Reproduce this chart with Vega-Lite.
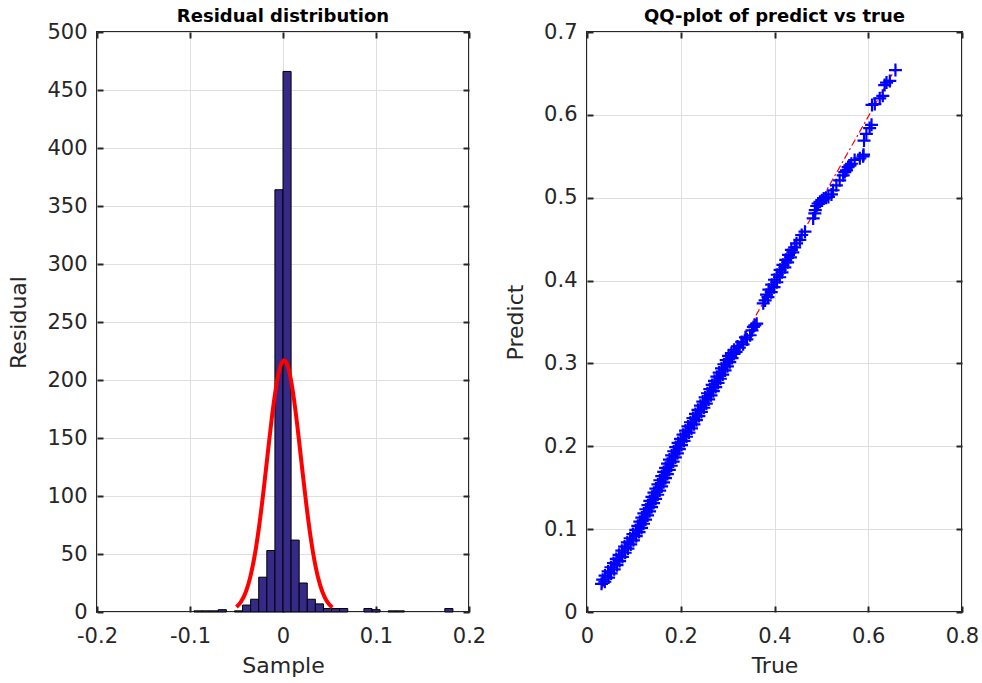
{
  "$schema": "https://vega.github.io/schema/vega-lite/v6.json",
  "background": "white",
  "padding": {"left": 6, "top": 7, "right": 10, "bottom": 5},
  "bounds": "flush",
  "spacing": 118,
  "datasets": {
    "bins": [
      {"start": -0.0957, "end": -0.087, "count": 1},
      {"start": -0.087, "end": -0.0783, "count": 1},
      {"start": -0.0783, "end": -0.0696, "count": 1},
      {"start": -0.0696, "end": -0.0609, "count": 2},
      {"start": -0.0522, "end": -0.0435, "count": 1},
      {"start": -0.0435, "end": -0.0348, "count": 6},
      {"start": -0.0348, "end": -0.0261, "count": 11},
      {"start": -0.0261, "end": -0.0174, "count": 30},
      {"start": -0.0174, "end": -0.0087, "count": 53},
      {"start": -0.0087, "end": 0, "count": 364},
      {"start": 0, "end": 0.0087, "count": 466},
      {"start": 0.0087, "end": 0.0174, "count": 62},
      {"start": 0.0174, "end": 0.0261, "count": 25},
      {"start": 0.0261, "end": 0.0348, "count": 11},
      {"start": 0.0348, "end": 0.0435, "count": 7},
      {"start": 0.0435, "end": 0.0522, "count": 3},
      {"start": 0.0522, "end": 0.0609, "count": 3},
      {"start": 0.0609, "end": 0.0696, "count": 3},
      {"start": 0.087, "end": 0.0957, "count": 3},
      {"start": 0.0957, "end": 0.1044, "count": 2},
      {"start": 0.1131, "end": 0.1218, "count": 1},
      {"start": 0.1218, "end": 0.1305, "count": 1},
      {"start": 0.174, "end": 0.1827, "count": 3}
    ],
    "fit": [
      {"x": -0.05, "y": 4.3}, {"x": -0.045, "y": 9.0}, {"x": -0.04, "y": 17.2},
      {"x": -0.035, "y": 30.7}, {"x": -0.03, "y": 50.7}, {"x": -0.025, "y": 77.9},
      {"x": -0.02, "y": 110.9}, {"x": -0.015, "y": 146.7}, {"x": -0.01, "y": 179.9},
      {"x": -0.005, "y": 204.9}, {"x": 0, "y": 216.5}, {"x": 0.0012, "y": 217},
      {"x": 0.005, "y": 212.4}, {"x": 0.01, "y": 193.3}, {"x": 0.015, "y": 163.3},
      {"x": 0.02, "y": 128.0}, {"x": 0.025, "y": 93.2}, {"x": 0.03, "y": 62.9},
      {"x": 0.035, "y": 39.4}, {"x": 0.04, "y": 22.9}, {"x": 0.045, "y": 12.4},
      {"x": 0.05, "y": 6.2}, {"x": 0.053, "y": 3.9}
    ],
    "refline": [
      {"x": 0.03, "y": 0.027},
      {"x": 0.66, "y": 0.658}
    ],
    "qq": [
      {"x": 0.031, "y": 0.034}, {"x": 0.038, "y": 0.0365}, {"x": 0.0335, "y": 0.039}, {"x": 0.046, "y": 0.0415},
      {"x": 0.0385, "y": 0.044}, {"x": 0.0515, "y": 0.0465}, {"x": 0.045, "y": 0.049}, {"x": 0.058, "y": 0.0515},
      {"x": 0.051, "y": 0.054}, {"x": 0.064, "y": 0.0565}, {"x": 0.0566, "y": 0.059}, {"x": 0.0695, "y": 0.0615},
      {"x": 0.0625, "y": 0.064}, {"x": 0.0755, "y": 0.0665}, {"x": 0.0684, "y": 0.069}, {"x": 0.0814, "y": 0.0715},
      {"x": 0.0743, "y": 0.074}, {"x": 0.0873, "y": 0.0765}, {"x": 0.0802, "y": 0.079}, {"x": 0.0932, "y": 0.0815},
      {"x": 0.086, "y": 0.084}, {"x": 0.099, "y": 0.0865}, {"x": 0.092, "y": 0.089}, {"x": 0.105, "y": 0.0915},
      {"x": 0.098, "y": 0.094}, {"x": 0.111, "y": 0.0965}, {"x": 0.104, "y": 0.099}, {"x": 0.1163, "y": 0.1015},
      {"x": 0.1084, "y": 0.104}, {"x": 0.1206, "y": 0.1065}, {"x": 0.1127, "y": 0.109}, {"x": 0.1249, "y": 0.1115},
      {"x": 0.117, "y": 0.114}, {"x": 0.1292, "y": 0.1165}, {"x": 0.1213, "y": 0.119}, {"x": 0.1335, "y": 0.1215},
      {"x": 0.1256, "y": 0.124}, {"x": 0.1378, "y": 0.1265}, {"x": 0.13, "y": 0.129}, {"x": 0.142, "y": 0.1315},
      {"x": 0.134, "y": 0.134}, {"x": 0.1464, "y": 0.1365}, {"x": 0.1385, "y": 0.139}, {"x": 0.1507, "y": 0.1415},
      {"x": 0.1428, "y": 0.144}, {"x": 0.155, "y": 0.1465}, {"x": 0.147, "y": 0.149}, {"x": 0.1592, "y": 0.1515},
      {"x": 0.1513, "y": 0.154}, {"x": 0.1633, "y": 0.1565}, {"x": 0.1554, "y": 0.159}, {"x": 0.1674, "y": 0.1615},
      {"x": 0.1595, "y": 0.164}, {"x": 0.1715, "y": 0.1665}, {"x": 0.1636, "y": 0.169}, {"x": 0.1756, "y": 0.1715},
      {"x": 0.1677, "y": 0.174}, {"x": 0.1797, "y": 0.1765}, {"x": 0.1718, "y": 0.179}, {"x": 0.1838, "y": 0.1815},
      {"x": 0.1759, "y": 0.184}, {"x": 0.1884, "y": 0.1865}, {"x": 0.1806, "y": 0.189}, {"x": 0.1928, "y": 0.1915},
      {"x": 0.185, "y": 0.194}, {"x": 0.197, "y": 0.1965}, {"x": 0.1893, "y": 0.199}, {"x": 0.2016, "y": 0.2015},
      {"x": 0.1943, "y": 0.204}, {"x": 0.207, "y": 0.2065}, {"x": 0.1996, "y": 0.209}, {"x": 0.2122, "y": 0.2115},
      {"x": 0.2049, "y": 0.214}, {"x": 0.2175, "y": 0.2165}, {"x": 0.2102, "y": 0.219}, {"x": 0.2228, "y": 0.2215},
      {"x": 0.2155, "y": 0.224}, {"x": 0.2281, "y": 0.2265}, {"x": 0.2208, "y": 0.229}, {"x": 0.2334, "y": 0.2315},
      {"x": 0.2261, "y": 0.234}, {"x": 0.2387, "y": 0.2365}, {"x": 0.2314, "y": 0.239}, {"x": 0.244, "y": 0.2415},
      {"x": 0.2367, "y": 0.244}, {"x": 0.2493, "y": 0.2465}, {"x": 0.242, "y": 0.249}, {"x": 0.2545, "y": 0.2515},
      {"x": 0.247, "y": 0.254}, {"x": 0.2595, "y": 0.2565}, {"x": 0.252, "y": 0.259}, {"x": 0.2645, "y": 0.2615},
      {"x": 0.257, "y": 0.264}, {"x": 0.2695, "y": 0.2665}, {"x": 0.262, "y": 0.269}, {"x": 0.2745, "y": 0.2715},
      {"x": 0.267, "y": 0.274}, {"x": 0.2795, "y": 0.2765}, {"x": 0.272, "y": 0.279}, {"x": 0.2845, "y": 0.2815},
      {"x": 0.277, "y": 0.284}, {"x": 0.2895, "y": 0.2865}, {"x": 0.282, "y": 0.289}, {"x": 0.2945, "y": 0.2915},
      {"x": 0.287, "y": 0.294}, {"x": 0.2995, "y": 0.2965}, {"x": 0.292, "y": 0.299}, {"x": 0.3045, "y": 0.3015},
      {"x": 0.297, "y": 0.304}, {"x": 0.3095, "y": 0.3065}, {"x": 0.302, "y": 0.309}, {"x": 0.3135, "y": 0.3115},
      {"x": 0.308, "y": 0.3125}, {"x": 0.318, "y": 0.314}, {"x": 0.314, "y": 0.3165}, {"x": 0.325, "y": 0.319},
      {"x": 0.321, "y": 0.3205}, {"x": 0.333, "y": 0.323}, {"x": 0.33, "y": 0.326}, {"x": 0.341, "y": 0.329},
      {"x": 0.338, "y": 0.3315}, {"x": 0.348, "y": 0.334}, {"x": 0.352, "y": 0.34}, {"x": 0.355, "y": 0.344},
      {"x": 0.358, "y": 0.346}, {"x": 0.362, "y": 0.348}, {"x": 0.376, "y": 0.3725}, {"x": 0.38, "y": 0.376},
      {"x": 0.386, "y": 0.38}, {"x": 0.383, "y": 0.383}, {"x": 0.393, "y": 0.386}, {"x": 0.388, "y": 0.389},
      {"x": 0.399, "y": 0.392}, {"x": 0.394, "y": 0.395}, {"x": 0.405, "y": 0.398}, {"x": 0.4, "y": 0.401},
      {"x": 0.411, "y": 0.404}, {"x": 0.406, "y": 0.407}, {"x": 0.416, "y": 0.41}, {"x": 0.412, "y": 0.413},
      {"x": 0.422, "y": 0.416}, {"x": 0.418, "y": 0.419}, {"x": 0.428, "y": 0.422}, {"x": 0.424, "y": 0.425},
      {"x": 0.434, "y": 0.428}, {"x": 0.43, "y": 0.431}, {"x": 0.439, "y": 0.434}, {"x": 0.436, "y": 0.437},
      {"x": 0.443, "y": 0.44}, {"x": 0.447, "y": 0.445}, {"x": 0.454, "y": 0.449}, {"x": 0.458, "y": 0.455},
      {"x": 0.465, "y": 0.459}, {"x": 0.4825, "y": 0.475}, {"x": 0.486, "y": 0.481}, {"x": 0.487, "y": 0.485},
      {"x": 0.49, "y": 0.49}, {"x": 0.493, "y": 0.493}, {"x": 0.497, "y": 0.495}, {"x": 0.501, "y": 0.497},
      {"x": 0.505, "y": 0.499}, {"x": 0.51, "y": 0.5}, {"x": 0.515, "y": 0.501}, {"x": 0.5215, "y": 0.504},
      {"x": 0.525, "y": 0.509}, {"x": 0.532, "y": 0.515}, {"x": 0.539, "y": 0.521}, {"x": 0.5465, "y": 0.527},
      {"x": 0.55, "y": 0.531}, {"x": 0.5535, "y": 0.533}, {"x": 0.557, "y": 0.537}, {"x": 0.561, "y": 0.539},
      {"x": 0.564, "y": 0.541}, {"x": 0.571, "y": 0.5455}, {"x": 0.582, "y": 0.5475}, {"x": 0.589, "y": 0.55},
      {"x": 0.59, "y": 0.552}, {"x": 0.591, "y": 0.569}, {"x": 0.596, "y": 0.577}, {"x": 0.603, "y": 0.584},
      {"x": 0.607, "y": 0.588}, {"x": 0.608, "y": 0.612}, {"x": 0.614, "y": 0.613}, {"x": 0.6245, "y": 0.62},
      {"x": 0.631, "y": 0.623}, {"x": 0.635, "y": 0.636}, {"x": 0.639, "y": 0.639}, {"x": 0.646, "y": 0.641},
      {"x": 0.658, "y": 0.654}
    ]
  },
  "config": {
    "view": {"stroke": "#262626", "strokeWidth": 2},
    "axis": {
      "domain": false,
      "labelFont": "DejaVu Sans", "labelFontSize": 21, "labelColor": "#262626",
      "titleFont": "DejaVu Sans", "titleFontSize": 22, "titleFontWeight": "normal", "titleColor": "#262626",
      "tickColor": "#262626", "tickWidth": 2, "tickSize": -6,
      "gridColor": "#dfdfdf", "gridWidth": 1,
      "labelFlush": false, "labelOverlap": false
    },
    "axisX": {"labelPadding": 19, "titlePadding": 9},
    "axisY": {"labelPadding": 16, "titlePadding": 16},
    "title": {"font": "DejaVu Sans", "fontSize": 18, "fontWeight": "bold", "color": "#000000", "offset": -5, "anchor": "middle"}
  },
  "hconcat": [
    {
      "width": 372, "height": 580,
      "title": "Residual distribution",
      "layer": [
        {
          "data": {"name": "bins"},
          "mark": {"type": "rect", "fill": "#352A87", "stroke": "#000000", "strokeWidth": 1, "opacity": 1},
          "encoding": {
            "x": {"field": "start", "type": "quantitative", "scale": {"domain": [-0.2, 0.2], "nice": false, "zero": false},
                  "axis": {"title": "Sample", "values": [-0.2, -0.1, 0, 0.1, 0.2], "format": "~g", "labelExpr": "replace(datum.label, '−', '-')", "grid": true}},
            "x2": {"field": "end"},
            "y": {"field": "count", "type": "quantitative", "scale": {"domain": [0, 500], "nice": false},
                  "axis": {"title": "Residual", "values": [0, 50, 100, 150, 200, 250, 300, 350, 400, 450, 500], "grid": true}},
            "y2": {"datum": 0}
          }
        },
        {
          "data": {"name": "fit"},
          "mark": {"type": "line", "color": "#FF0000", "strokeWidth": 4, "interpolate": "monotone"},
          "encoding": {
            "x": {"field": "x", "type": "quantitative", "axis": {"orient": "top", "labels": false, "title": null, "grid": false, "values": [-0.2, -0.1, 0, 0.1, 0.2]}},
            "y": {"field": "y", "type": "quantitative", "axis": {"orient": "right", "labels": false, "title": null, "grid": false, "values": [0, 50, 100, 150, 200, 250, 300, 350, 400, 450, 500]}}
          }
        }
      ],
      "resolve": {"axis": {"x": "independent", "y": "independent"}}
    },
    {
      "width": 375, "height": 580,
      "title": "QQ-plot of predict vs true",
      "layer": [
        {
          "data": {"name": "refline"},
          "mark": {"type": "line", "color": "#FF0000", "strokeWidth": 1.2, "strokeDash": [7, 3, 2, 3]},
          "encoding": {
            "x": {"field": "x", "type": "quantitative", "scale": {"domain": [0, 0.8], "nice": false},
                  "axis": {"title": "True", "values": [0, 0.2, 0.4, 0.6, 0.8], "format": "~g", "grid": true}},
            "y": {"field": "y", "type": "quantitative", "scale": {"domain": [0, 0.7], "nice": false},
                  "axis": {"title": "Predict", "values": [0, 0.1, 0.2, 0.3, 0.4, 0.5, 0.6, 0.7], "format": "~g", "grid": true}}
          }
        },
        {
          "data": {"name": "qq"},
          "mark": {"type": "point", "shape": "M-1,0H1M0,-1V1", "filled": false, "stroke": "#0000FF", "strokeWidth": 2.2, "size": 169, "opacity": 1},
          "encoding": {
            "x": {"field": "x", "type": "quantitative", "axis": {"orient": "top", "labels": false, "title": null, "grid": false, "values": [0, 0.2, 0.4, 0.6, 0.8]}},
            "y": {"field": "y", "type": "quantitative", "axis": {"orient": "right", "labels": false, "title": null, "grid": false, "values": [0, 0.1, 0.2, 0.3, 0.4, 0.5, 0.6, 0.7]}}
          }
        }
      ],
      "resolve": {"axis": {"x": "independent", "y": "independent"}}
    }
  ]
}
